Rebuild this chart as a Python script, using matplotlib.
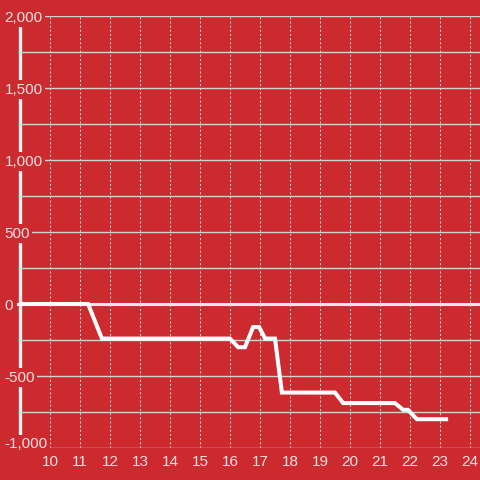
import matplotlib
matplotlib.use("Agg")
import matplotlib.pyplot as plt
from matplotlib.ticker import FixedLocator

# ---- data ----
x_vals = [9.0, 11.27, 11.73, 16.0, 16.27, 16.5, 16.77, 16.97, 17.17, 17.5,
          17.73, 19.5, 19.77, 21.5, 21.77, 21.93, 22.23, 23.27]
y_vals = [0, 0, -240, -240, -300, -300, -160, -160, -240, -240,
          -615, -615, -688, -688, -735, -735, -800, -800]
x_ticks = list(range(10, 25))
y_major = [-1000, -500, 0, 500, 1000, 1500, 2000]
y_minor = [-750, -250, 250, 750, 1250, 1750]

bg = "#CC2A2F"
txt = "#F3E1E1"
grid_c = "#D2D2D2"

plt.rcParams['font.family'] = ['Liberation Sans', 'DejaVu Sans']

fig = plt.figure(figsize=(4.8, 4.8), dpi=100, facecolor=bg)
ax = fig.add_axes([20/480, 1 - 448/480, 460/480, 432/480], facecolor=bg)
ax.set_xlim(9.0, 9.0 + 460/30)
ax.set_ylim(-1000, 2000)

for s in ax.spines.values():
    s.set_visible(False)

ax.xaxis.set_major_locator(FixedLocator(x_ticks))
ax.yaxis.set_major_locator(FixedLocator(y_major))
ax.yaxis.set_minor_locator(FixedLocator(y_minor))
ax.set_xticklabels([str(v) for v in x_ticks])
ax.set_yticklabels([f"{v:,}" for v in y_major])

ax.tick_params(axis='x', length=0, pad=5, labelsize=11, labelcolor=txt)
ax.tick_params(axis='y', which='both', length=0)
ax.tick_params(axis='y', which='major', pad=11, labelsize=11, labelcolor=txt)
for lab in ax.get_yticklabels():
    lab.set_horizontalalignment('left')
    lab.set_bbox(dict(facecolor=bg, edgecolor='none', pad=1.5))
ax.get_yticklabels()[0].set_verticalalignment('baseline')

ax.grid(True, axis='y', which='both', color=grid_c, lw=1.0, ls='-')
ax.grid(True, axis='x', which='major', color=grid_c, lw=0.75, ls=(0, (2, 2)))
ax.set_axisbelow(True)

# left white axis line
ax.plot([9.0, 9.0], [1944, -910], color='#F2F2F2', lw=2.4, zorder=0.5,
        clip_on=False, solid_capstyle='butt')
# zero reference line
ax.axhline(0, xmin=-2/460, xmax=1, color='#EBEBEB', lw=2.2, zorder=3, clip_on=False)

ax.plot(x_vals, y_vals, color='white', lw=2.9, zorder=4,
        solid_joinstyle='miter', solid_capstyle='butt', clip_on=False)

fig.savefig("out.png", dpi=100, facecolor=bg)
